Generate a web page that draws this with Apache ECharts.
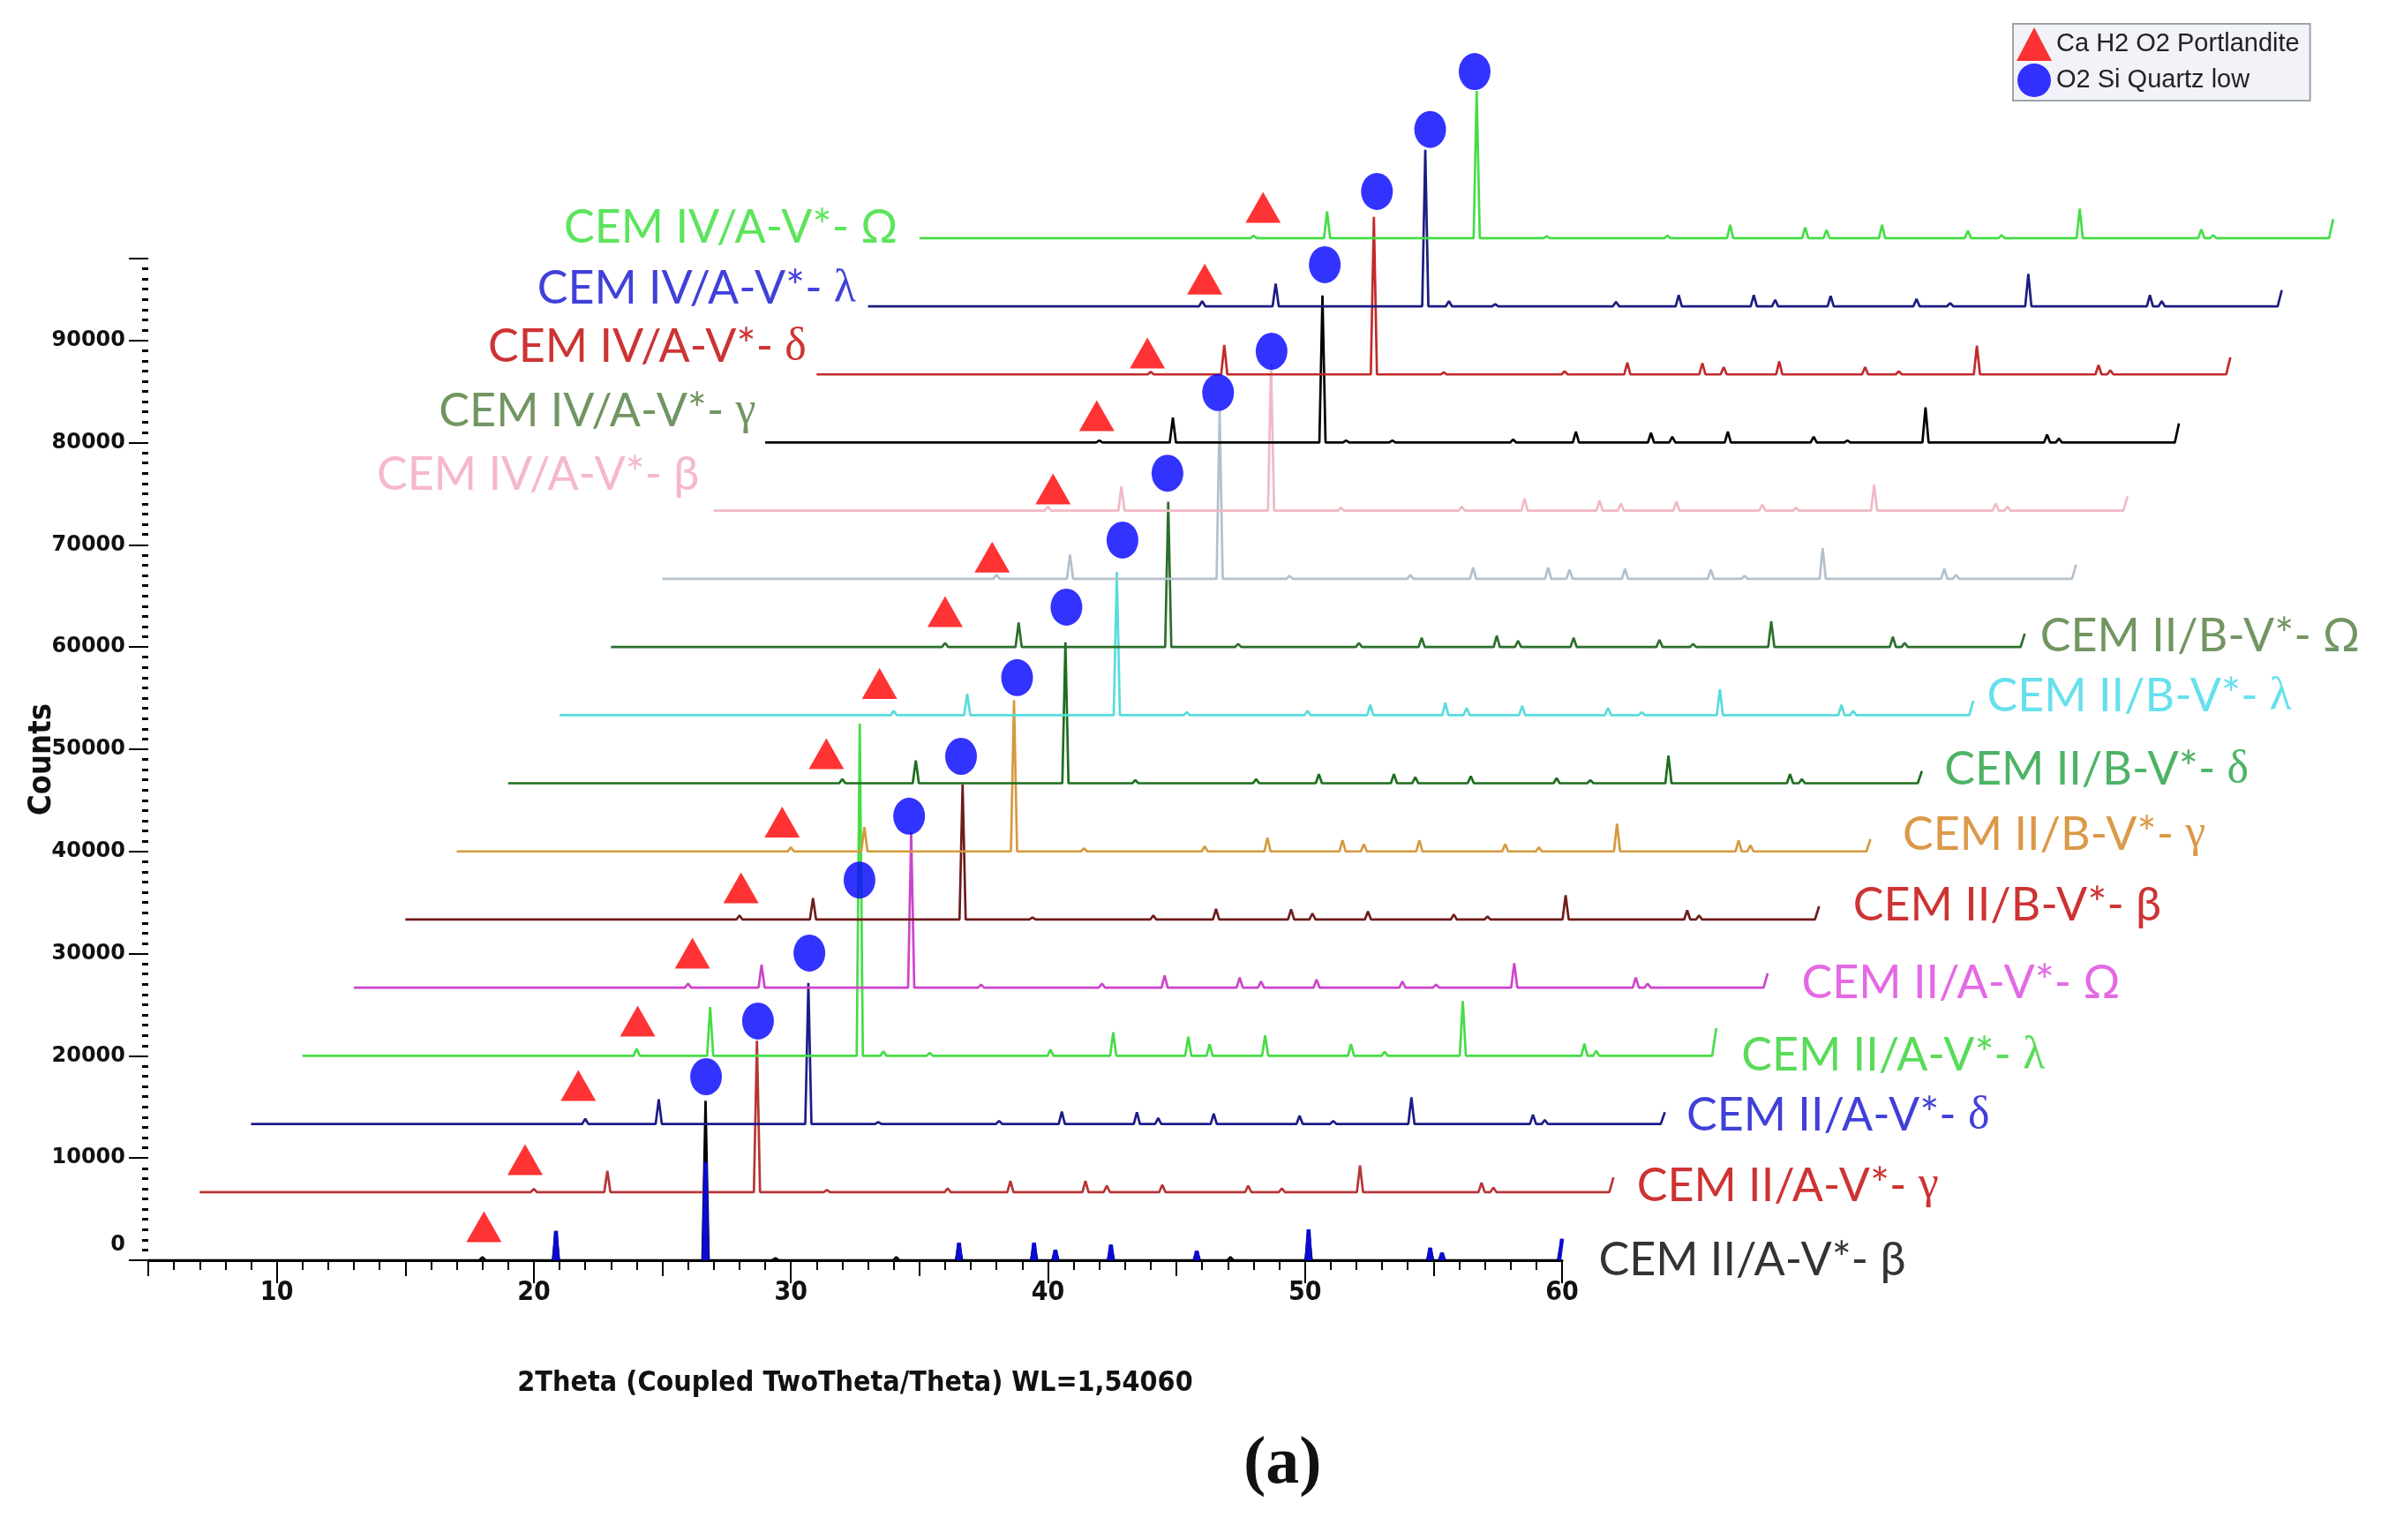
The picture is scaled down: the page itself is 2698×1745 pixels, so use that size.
<!DOCTYPE html>
<html><head><meta charset="utf-8">
<script src="https://cdn.jsdelivr.net/npm/echarts@6/dist/echarts.min.js"></script>
<style>html,body{margin:0;padding:0;background:#fff}#c{width:2698px;height:1745px}</style>
</head><body><div id="c"></div><script>
// ---------------- DATA ----------------
const scanStart = 5, scanEnd = 60;                       // 2Theta scan range of each pattern
const peakPositions = [18.0, 20.86, 26.68, 27.6, 29.4, 34.1, 36.54, 39.46, 40.29, 42.45, 45.79, 47.1, 50.14, 54.87, 55.33, 59.96];
// peak heights (counts above each pattern's baseline), one row per pattern
const peakHeights = [
  [300, 2850, 15600,   0, 200, 300, 1700, 1700, 1000, 1500,  900, 300, 3000, 1200, 700, 2100],
  [300, 2070, 14800,   0, 200, 350, 1100, 1100,  630,  720,  630, 350, 2600,  920, 430, 1440],
  [500, 2400, 13800,   0, 200, 300, 1200, 1150,  575, 1000,  800, 300, 2600,  900, 400, 1150],
  [700, 4770, 32500, 430, 300, 600, 2300, 1870, 1150, 2000, 1150, 400, 5360, 1200, 500, 2700],
  [400, 2240, 15200,   0, 300, 400, 1200, 1000,  600,  800,  600, 300, 2400, 1000, 400, 1400],
  [400, 2090, 13200,   0, 200, 400, 1040, 1000,  600,  800,  500, 300, 2380,  900, 400, 1300],
  [400, 2380, 14800,   0, 300, 500, 1340, 1100,  700, 1100,  700, 400, 2700, 1100, 600, 1200],
  [400, 2240, 13800,   0, 300, 400,  900,  900,  600,  700,  500, 300, 2700,  900, 400, 1200],
  [400, 2090, 14000,   0, 300, 400, 1000, 1200,  700,  900,  700, 300, 2530, 1000, 400, 1400],
  [400, 2380, 14200,   0, 300, 400,  900, 1100,  600,  900,  700, 300, 2530, 1000, 400, 1300],
  [400, 2380, 16500,   0, 300, 400, 1100, 1100,  900, 1000,  900, 300, 3000, 1000, 400, 1400],
  [400, 2380, 14400,   0, 300, 400, 1200, 1000,  700,  900,  600, 300, 2530,  700, 400, 1400],
  [200, 2450, 14400, 200, 200, 300, 1060,  950,  575, 1060,  575, 200, 3450,  780, 400, 1870],
  [250, 2880, 15400,   0, 200, 300, 1150, 1100,  720, 1270,  720, 300, 2820,  920, 400, 1670],
  [500, 2220, 15300, 500, 200, 430, 1090, 1090,  630, 1000,  720, 300, 3170, 1090, 500, 1580],
  [250, 2600, 14400,   0, 200, 250, 1300, 1060,  780, 1300,  720, 300, 2880,  860, 300, 1870]
];
// filled (blue) peak overlay of the bottom pattern
const bottomOverlayHeights = [0, 2850, 9600, 0, 0, 0, 1700, 1700, 1000, 1500, 900, 0, 3000, 1200, 700, 2100];
// offsets of each pattern (2Theta, counts)
const xShift = [0, 2, 4, 6, 8, 10, 12, 14, 16, 18, 20, 22, 24, 26, 28, 30];
const yShift = [0, 6667, 13333, 20000, 26667, 33333, 40000, 46667, 53333, 60000, 66667, 73333, 80000, 86667, 93333, 100000];
// phase markers (position relative to the pattern: 2Theta, counts above baseline)
const portlanditeX = [18.06, 17.66, 17.73, 18.04, 18.17, 18.06, 17.66, 17.38, 17.45, 18.0, 17.83, 18.2, 17.9, 17.87, 18.1, 18.37];
const portlanditeY = [3280, 3170, 3770, 3400, 3380, 3100, 2880, 2900, 3100, 3470, 2130, 2140, 2640, 2100, 2670, 3000];
const quartzX = [26.7, 26.72, 26.72, 26.67, 26.6, 26.62, 26.8, 26.72, 26.9, 26.65, 26.62, 26.7, 26.77, 26.8, 26.87, 26.6];
const quartzY = [17960, 16740, 16720, 17200, 16780, 15970, 17000, 17230, 17130, 17000, 18220, 15600, 17400, 17900, 17300, 16300];
const sampleNames = ['CEM II/A-V*- ', 'CEM II/A-V*- ', 'CEM II/A-V*- ', 'CEM II/A-V*- ', 'CEM II/A-V*- ',
  'CEM II/B-V*- ', 'CEM II/B-V*- ', 'CEM II/B-V*- ', 'CEM II/B-V*- ', 'CEM II/B-V*- ', '',
  'CEM IV/A-V*- ', 'CEM IV/A-V*- ', 'CEM IV/A-V*- ', 'CEM IV/A-V*- ', 'CEM IV/A-V*- '];
const sampleGreek = ['β', 'γ', 'δ', 'λ', 'Ω', 'β', 'γ', 'δ', 'λ', 'Ω', '', 'β', 'γ', 'δ', 'λ', 'Ω'];
const xTickLabels = [10, 20, 30, 40, 50, 60];
const phaseNames = ['Ca H2 O2 Portlandite', 'O2 Si Quartz low'];

// ---------------- STYLE / LAYOUT ----------------
const lineColors = ['#000000', '#b83434', '#1c1c8a', '#45dd45', '#cc44cc', '#6e1c1c', '#d59a3e', '#1d6e1d',
  '#58dcdc', '#2b6f2b', '#b4c0cb', '#f1b9c5', '#000000', '#c22a2a', '#1c1c82', '#45dd45'];
const labelColors = ['#000000', '#c00000', '#1010d0', '#2fd22f', '#dd44dd', '#c00000', '#d2801a', '#20a040',
  '#40d8e8', '#507a3a', '', '#f2a5c3', '#4e7a3a', '#c00000', '#1010d0', '#33dd33'];
const labelSide = ['right','right','right','right','right','right','right','right','right','right','', 'left','left','left','left','left'];
const labelNudge = [[41,0],[26,-7],[24,-9],[28,0],[38,-5],[38,-16],[36,-19],[25,-15],[15,-21],[17,-12],[0,0],
  [16,-40],[10,-35],[11,-31],[13,-20],[24,-12]];
const serifGreek = {'γ':1, 'δ':1, 'λ':1};

const X0 = 168, YB = 1428;
const PX_DEG = 1602 / 55;
const PX_CNT = 1135 / 98000;
const W = 0.12;
const LABEL_SIZE = 52;

function buildTrace(i, heights) {
  const b = yShift[i], s = xShift[i];
  const pts = [[scanStart + s, b]];
  peakPositions.forEach((p, k) => {
    const h = heights[k];
    if (!h) return;
    if (p + W >= scanEnd) {
      pts.push([p - W + s, b], [scanEnd + s, b + h]);
    } else {
      pts.push([p - W + s, b], [p + s, b + h], [p + W + s, b]);
    }
  });
  const last = pts[pts.length - 1];
  if (last[0] < scanEnd + s) pts.push([scanEnd + s, b]);
  return pts;
}
function buildSticks(heights) {
  const pts = [];
  peakPositions.forEach((p, k) => {
    const h = heights[k];
    if (!h) return;
    if (p + 0.07 >= scanEnd) {
      pts.push([p - 0.07, 0], [scanEnd, h]);
    } else {
      pts.push([p - 0.07, 0], [p, h], [p + 0.07, 0]);
    }
    pts.push([p + 0.08, '-']);
  });
  return pts;
}

const series = [];
peakHeights.forEach((row, i) => {
  series.push({
    type: 'line', xAxisIndex: 2, yAxisIndex: 1, data: buildTrace(i, row),
    showSymbol: false, symbol: 'none', silent: true, animation: false,
    lineStyle: { color: lineColors[i], width: 2.7 }, z: 3
  });
});
series.push({
  type: 'line', xAxisIndex: 2, yAxisIndex: 1, data: buildSticks(bottomOverlayHeights),
  showSymbol: false, symbol: 'none', silent: true, animation: false, connectNulls: false,
  lineStyle: { color: '#0a0ad0', width: 4.5 }, z: 4
});
series.push({
  name: phaseNames[0], type: 'scatter', xAxisIndex: 2, yAxisIndex: 1, symbol: 'triangle', symbolSize: [40, 35],
  itemStyle: { color: '#ff0000' }, silent: true, animation: false, z: 6,
  data: portlanditeX.map((x, i) => [x + xShift[i], portlanditeY[i] + yShift[i]])
});
series.push({
  name: phaseNames[1], type: 'scatter', xAxisIndex: 2, yAxisIndex: 1, symbol: 'circle', symbolSize: [36, 42],
  itemStyle: { color: '#0000ff' }, silent: true, animation: false, z: 6,
  data: quartzX.map((x, i) => [x + xShift[i], quartzY[i] + yShift[i]])
});
const labelData = [];
sampleNames.forEach((nm, i) => {
  if (!nm) return;
  const side = labelSide[i];
  const g = sampleGreek[i];
  labelData.push({
    value: [(side === 'right' ? scanEnd : scanStart) + xShift[i], yShift[i]],
    label: {
      show: true, position: side, distance: labelNudge[i][0], offset: [0, labelNudge[i][1]],
      formatter: '{s|' + nm + '}{g|' + g + '}',
      rich: {
        s: { fontFamily: 'Lato', fontSize: LABEL_SIZE, color: labelColors[i] },
        g: { fontFamily: serifGreek[g] ? 'Liberation Serif' : 'Lato', fontSize: LABEL_SIZE, color: labelColors[i] }
      }
    }
  });
});
series.push({
  type: 'scatter', xAxisIndex: 2, yAxisIndex: 1, symbolSize: 1, itemStyle: { color: 'rgba(0,0,0,0)' },
  silent: true, animation: false, z: 7, data: labelData
});

const gridMain = { left: X0, top: YB - 98000 * PX_CNT, width: 55 * PX_DEG, height: 98000 * PX_CNT, outerBoundsMode: 'none' };
const gridData = { left: X0, top: YB - 120000 * PX_CNT, width: 86 * PX_DEG, height: 120000 * PX_CNT, outerBoundsMode: 'none' };
const axisFont = "'Liberation Sans Narrow','DejaVu Sans Condensed',sans-serif";

const option = {
  backgroundColor: '#ffffff',
  animation: false,
  grid: [gridMain, gridData, Object.assign({}, gridMain)],
  xAxis: [
    { gridIndex: 0, type: 'value', min: 5, max: 60, interval: 5,
      axisLine: { show: true, lineStyle: { color: '#000', width: 3 } },
      axisTick: { show: true, length: 18, lineStyle: { color: '#000', width: 2 } },
      minorTick: { show: true, splitNumber: 5, length: 11, lineStyle: { color: '#000', width: 2 } },
      axisLabel: { show: false }, splitLine: { show: false } },
    { gridIndex: 2, type: 'value', min: 5, max: 60,
      axisLine: { show: false },
      axisTick: { show: true, customValues: xTickLabels, length: 26, lineStyle: { color: '#000', width: 2 } },
      axisLabel: { show: true, customValues: xTickLabels, margin: 22, color: '#111', fontFamily: axisFont, fontWeight: 'bold', fontSize: 30 },
      splitLine: { show: false },
      name: '2Theta (Coupled TwoTheta/Theta) WL=1,54060', nameLocation: 'middle', nameGap: 124,
      nameTextStyle: { color: '#111', fontFamily: axisFont, fontWeight: 'bold', fontSize: 32 } },
    { gridIndex: 1, type: 'value', min: 5, max: 91, show: false }
  ],
  yAxis: [
    { gridIndex: 0, type: 'value', min: 0, max: 98000, interval: 10000,
      axisLine: { show: false },
      axisTick: { show: true, length: 22, lineStyle: { color: '#000', width: 2 } },
      minorTick: { show: true, splitNumber: 10, length: 7, lineStyle: { color: '#000', width: 3 } },
      axisLabel: { show: true, showMaxLabel: false, margin: 26, color: '#111', fontFamily: 'DejaVu Sans', fontWeight: 'bold', fontSize: 24,
        formatter: v => v === 0 ? '{z|0}' : String(v), rich: { z: { padding: [0, 0, 34, 0], fontFamily: 'DejaVu Sans', fontWeight: 'bold', fontSize: 24, color: '#111' } } },
      splitLine: { show: false },
      name: 'Counts', nameLocation: 'middle', nameGap: 102, nameRotate: 90, nameMoveOverlap: false,
      nameTextStyle: { color: '#111', fontFamily: axisFont, fontWeight: 'bold', fontSize: 36 } },
    { gridIndex: 1, type: 'value', min: 0, max: 120000, show: false },
    { gridIndex: 2, type: 'value', min: 0, max: 98000, show: false }
  ],
  legend: {
    orient: 'vertical', left: 2281, top: 27, itemWidth: 40, itemHeight: 38, itemGap: 3,
    padding: [4, 12, 4, 4], backgroundColor: '#f1f3f8', borderColor: '#9ea4ab', borderWidth: 2,
    textStyle: { fontFamily: 'Liberation Sans', fontSize: 29, color: '#222' },
    data: [{ name: phaseNames[0], icon: 'triangle' }, { name: phaseNames[1], icon: 'circle' }],
    selectedMode: false
  },
  graphic: [{ type: 'text', left: 1409, top: 1622, silent: true,
    style: { text: '(a)', font: 'bold 76px "Liberation Serif"', fill: '#111' } }],
  series: series
};
const chart = echarts.init(document.getElementById('c'), null, { renderer: 'canvas' });
chart.setOption(option);
</script></body></html>
